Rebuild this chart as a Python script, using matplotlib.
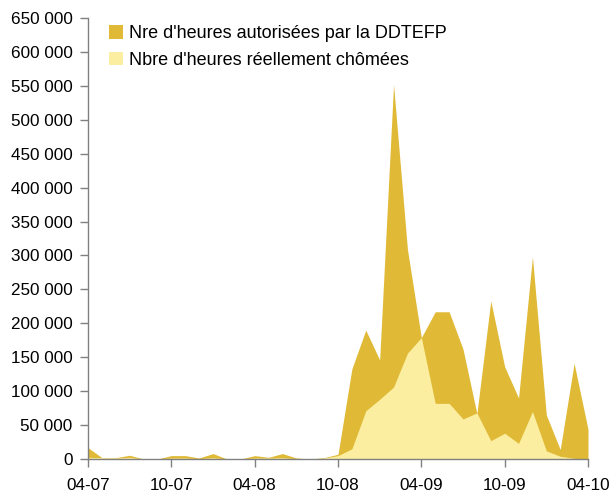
import matplotlib
matplotlib.use("Agg")
import matplotlib.pyplot as plt
from matplotlib.ticker import FuncFormatter, MultipleLocator
from matplotlib.patches import Patch

plt.rcParams['font.family'] = ['Liberation Sans', 'DejaVu Sans']

months = ["04-07","05-07","06-07","07-07","08-07","09-07","10-07","11-07","12-07",
          "01-08","02-08","03-08","04-08","05-08","06-08","07-08","08-08","09-08",
          "10-08","11-08","12-08","01-09","02-09","03-09","04-09","05-09","06-09",
          "07-09","08-09","09-09","10-09","11-09","12-09","01-10","02-10","03-10","04-10"]
autorisees = [16700, 2000, 2000, 5500, 0, 0, 5000, 5000, 1500,
              8000, 0, 0, 5000, 2500, 8000, 1500, 0, 2000,
              7000, 133000, 190000, 146000, 552000, 309000, 179000, 217000, 217000,
              162000, 67000, 233000, 136000, 90000, 298000, 65000, 14000, 141000, 44000]
chomees = [2500, 2000, 1500, 2500, 0, 0, 1500, 1500, 500,
           2000, 0, 0, 1500, 1500, 2000, 500, 0, 1500,
           5000, 15000, 71000, 88000, 106000, 156000, 179000, 82000, 82000,
           59000, 68000, 27000, 38000, 23000, 70000, 12000, 4000, 1000, 0]
tick_labels = ["04-07", "10-07", "04-08", "10-08", "04-09", "10-09", "04-10"]

dark = "#E0BA36"
light = "#FCEEA1"

fig = plt.figure(figsize=(6.10, 4.92), dpi=100)
ax = fig.add_axes([88/610, 33/492, 500/610, 441/492])

x = list(range(len(months)))
ax.fill_between(x, 0, autorisees, color=dark, linewidth=0)
ax.fill_between(x, 0, chomees, color=light, linewidth=0)

ax.set_xlim(0, len(months) - 1)
ax.set_ylim(0, 650000)
ax.yaxis.set_major_locator(MultipleLocator(50000))
ax.yaxis.set_major_formatter(FuncFormatter(lambda v, p: f"{int(v):,}".replace(",", " ")))
ax.set_xticks(list(range(0, len(months), 6)))
ax.set_xticklabels(tick_labels)

for s in ["top", "right"]:
    ax.spines[s].set_visible(False)
for s in ["left", "bottom"]:
    ax.spines[s].set_color("#808080")
    ax.spines[s].set_linewidth(1.0)
ax.tick_params(axis="both", colors="#808080", labelcolor="black", labelsize=12.3,
               direction="out", length=6, width=1)
ax.tick_params(axis="x", pad=8)
ax.tick_params(axis="y", pad=5)

handles = [Patch(facecolor=dark, edgecolor="none"), Patch(facecolor=light, edgecolor="none")]
labels = ["Nre d'heures autorisées par la DDTEFP", "Nbre d'heures réellement chômées"]
fig.legend(handles, labels, loc="upper left", bbox_to_anchor=(102/610, 1 - 18/492),
           frameon=False, fontsize=13, handlelength=0.75, handleheight=0.75,
           handletextpad=0.35, labelspacing=0.55, borderaxespad=0)

fig.savefig("out.png", dpi=100)
